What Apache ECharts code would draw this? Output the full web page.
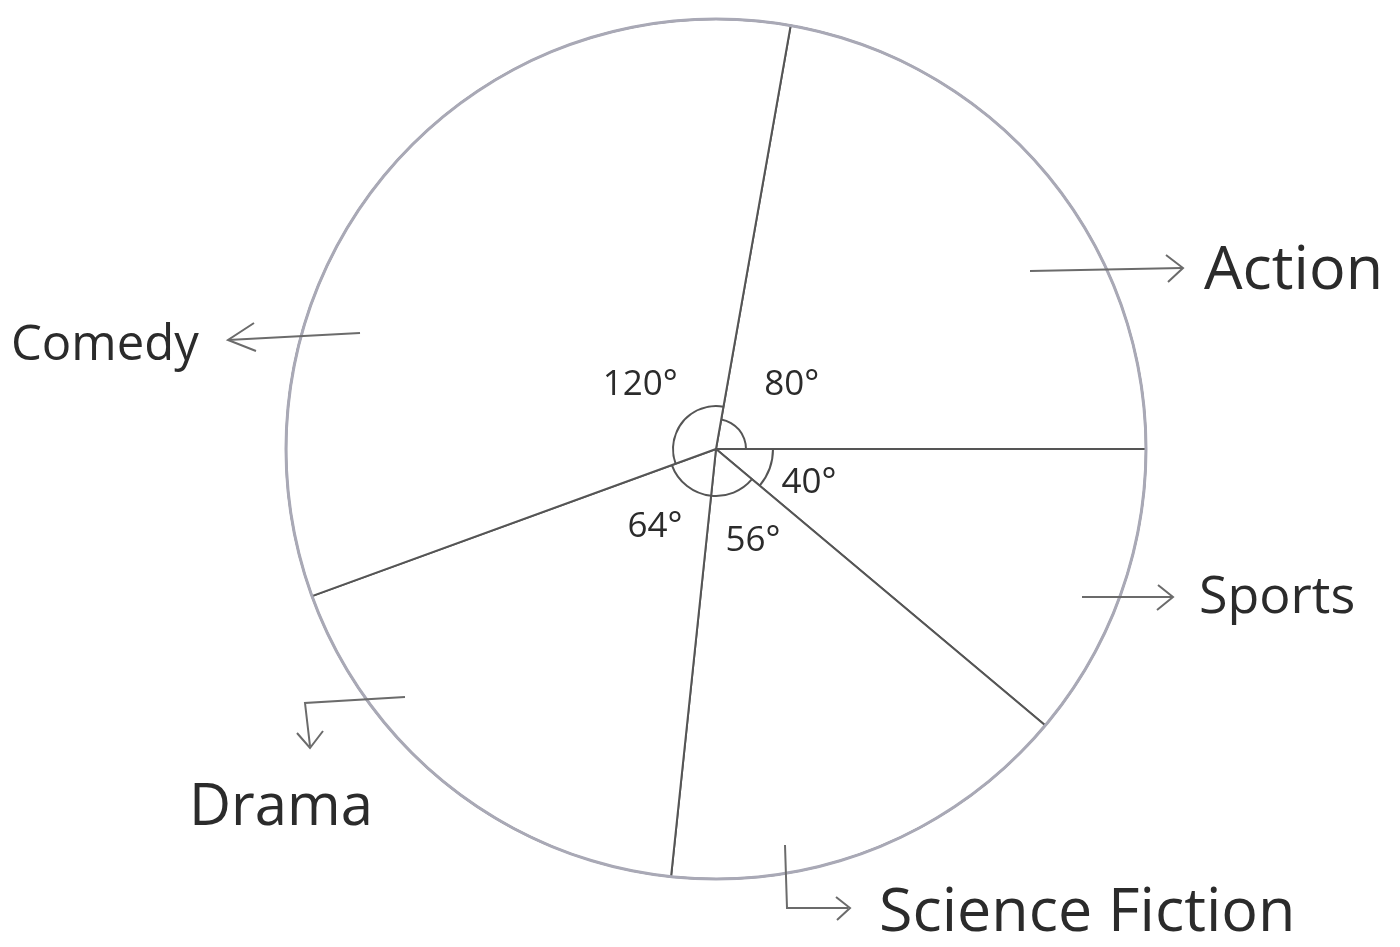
<!DOCTYPE html>
<html>
<head>
<meta charset="utf-8">
<script src="https://cdn.jsdelivr.net/npm/echarts@6/dist/echarts.min.js"></script>
<style>
  html, body { margin: 0; padding: 0; background: #ffffff; }
  #chart { width: 1400px; height: 947px; }
</style>
</head>
<body>
<div id="chart"></div>
<script>
// Favourite film genres, shown as angles of a full circle
const genres = ['Action', 'Sports', 'Science Fiction', 'Drama', 'Comedy'];
const degrees = [80, 40, 56, 64, 120];

// Geometry and style
const CX = 716, CY = 449, R = 430;
const ink = '#2b2b2b';
const lineGray = '#555555';
const rimGray = '#a9a9b6';
const arrowGray = '#6b6b6b';
const handFont = '"Open Sans", "DejaVu Sans", sans-serif';

// Where each genre name sits (left edge, vertical middle) and its size
const namePlacement = {
  'Action':          { x: 1204, y: 272, size: 61 },
  'Sports':          { x: 1199, y: 598, size: 52 },
  'Science Fiction': { x: 879,  y: 914, size: 61 },
  'Drama':           { x: 189,  y: 808, size: 58 },
  'Comedy':          { x: 11,   y: 346, size: 49 }
};

// Radius of the small angle arc drawn inside each slice
const arcRadius = [30, 57, 47, 47, 43];

const chart = echarts.init(document.getElementById('chart'), null, { renderer: 'canvas' });

const sliceData = degrees.map((v, i) => ({ value: v, name: genres[i] }));

const arcSeries = arcRadius.map((r, k) => ({
  type: 'pie',
  center: [CX, CY],
  radius: [r - 1, r + 1],
  startAngle: 80,
  clockwise: true,
  silent: true,
  emphasis: { disabled: true },
  label: { show: false },
  labelLine: { show: false },
  itemStyle: { borderWidth: 0 },
  data: degrees.map((v, i) => ({
    value: v,
    name: genres[i],
    itemStyle: { color: i === k ? lineGray : 'rgba(0,0,0,0)' }
  })),
  z: 3
}));

function arrowHead(tip, a, b) {
  return { type: 'polyline', z: 100, shape: { points: [a, tip, b] },
           style: { stroke: arrowGray, lineWidth: 2, fill: null } };
}
function stroke(points) {
  return { type: 'polyline', z: 100, shape: { points: points },
           style: { stroke: arrowGray, lineWidth: 2, fill: null } };
}

const option = {
  backgroundColor: '#ffffff',
  animation: false,
  series: [
    {
      // the slices themselves, with names placed beside their arrows
      type: 'pie',
      center: [CX, CY],
      radius: R,
      startAngle: 80,
      clockwise: true,
      avoidLabelOverlap: false,
      silent: true,
      emphasis: { disabled: true },
      itemStyle: { color: '#ffffff', borderColor: lineGray, borderWidth: 2 },
      label: {
        show: true,
        position: 'outside',
        formatter: '{b}',
        color: ink,
        fontFamily: handFont
      },
      labelLine: { show: false },
      labelLayout: function (params) {
        const name = genres[params.dataIndex];
        const p = namePlacement[name];
        return { x: p.x, y: p.y, align: 'left', verticalAlign: 'middle', fontSize: p.size };
      },
      data: sliceData.map(d => ({
        value: d.value,
        name: d.name,
        label: { fontSize: namePlacement[d.name].size }
      })),
      z: 2
    },
    {
      // lighter rim of the circle
      type: 'pie',
      center: [CX, CY],
      radius: [R - 1.5, R + 1.5],
      silent: true,
      emphasis: { disabled: true },
      label: { show: false },
      labelLine: { show: false },
      itemStyle: { color: rimGray, borderWidth: 0 },
      data: [{ value: 1, name: 'rim' }],
      z: 4
    },
    {
      // angle readings near the centre
      type: 'pie',
      center: [CX, CY],
      radius: [0, 192],
      startAngle: 80,
      clockwise: true,
      silent: true,
      emphasis: { disabled: true },
      itemStyle: { color: 'rgba(0,0,0,0)', borderWidth: 0 },
      label: {
        show: true,
        position: 'inside',
        formatter: '{c}°',
        color: ink,
        fontFamily: handFont,
        fontSize: 35
      },
      labelLine: { show: false },
      data: sliceData,
      z: 5
    }
  ].concat(arcSeries),
  graphic: [
    // Action
    stroke([[1030, 271], [1182, 268]]),
    arrowHead([1183, 268], [1166, 255], [1168, 282]),
    // Comedy
    stroke([[360, 333], [228, 340]]),
    arrowHead([228, 340], [254, 323], [256, 351]),
    // Sports
    stroke([[1082, 597], [1172, 597]]),
    arrowHead([1173, 597], [1158, 585], [1157, 610]),
    // Drama
    stroke([[405, 697], [305, 703], [310, 746]]),
    arrowHead([310, 748], [297, 733], [323, 731]),
    // Science Fiction
    stroke([[785, 845], [787, 908], [848, 908]]),
    arrowHead([850, 908], [836, 897], [837, 920])
  ]
};

chart.setOption(option);
</script>
</body>
</html>
